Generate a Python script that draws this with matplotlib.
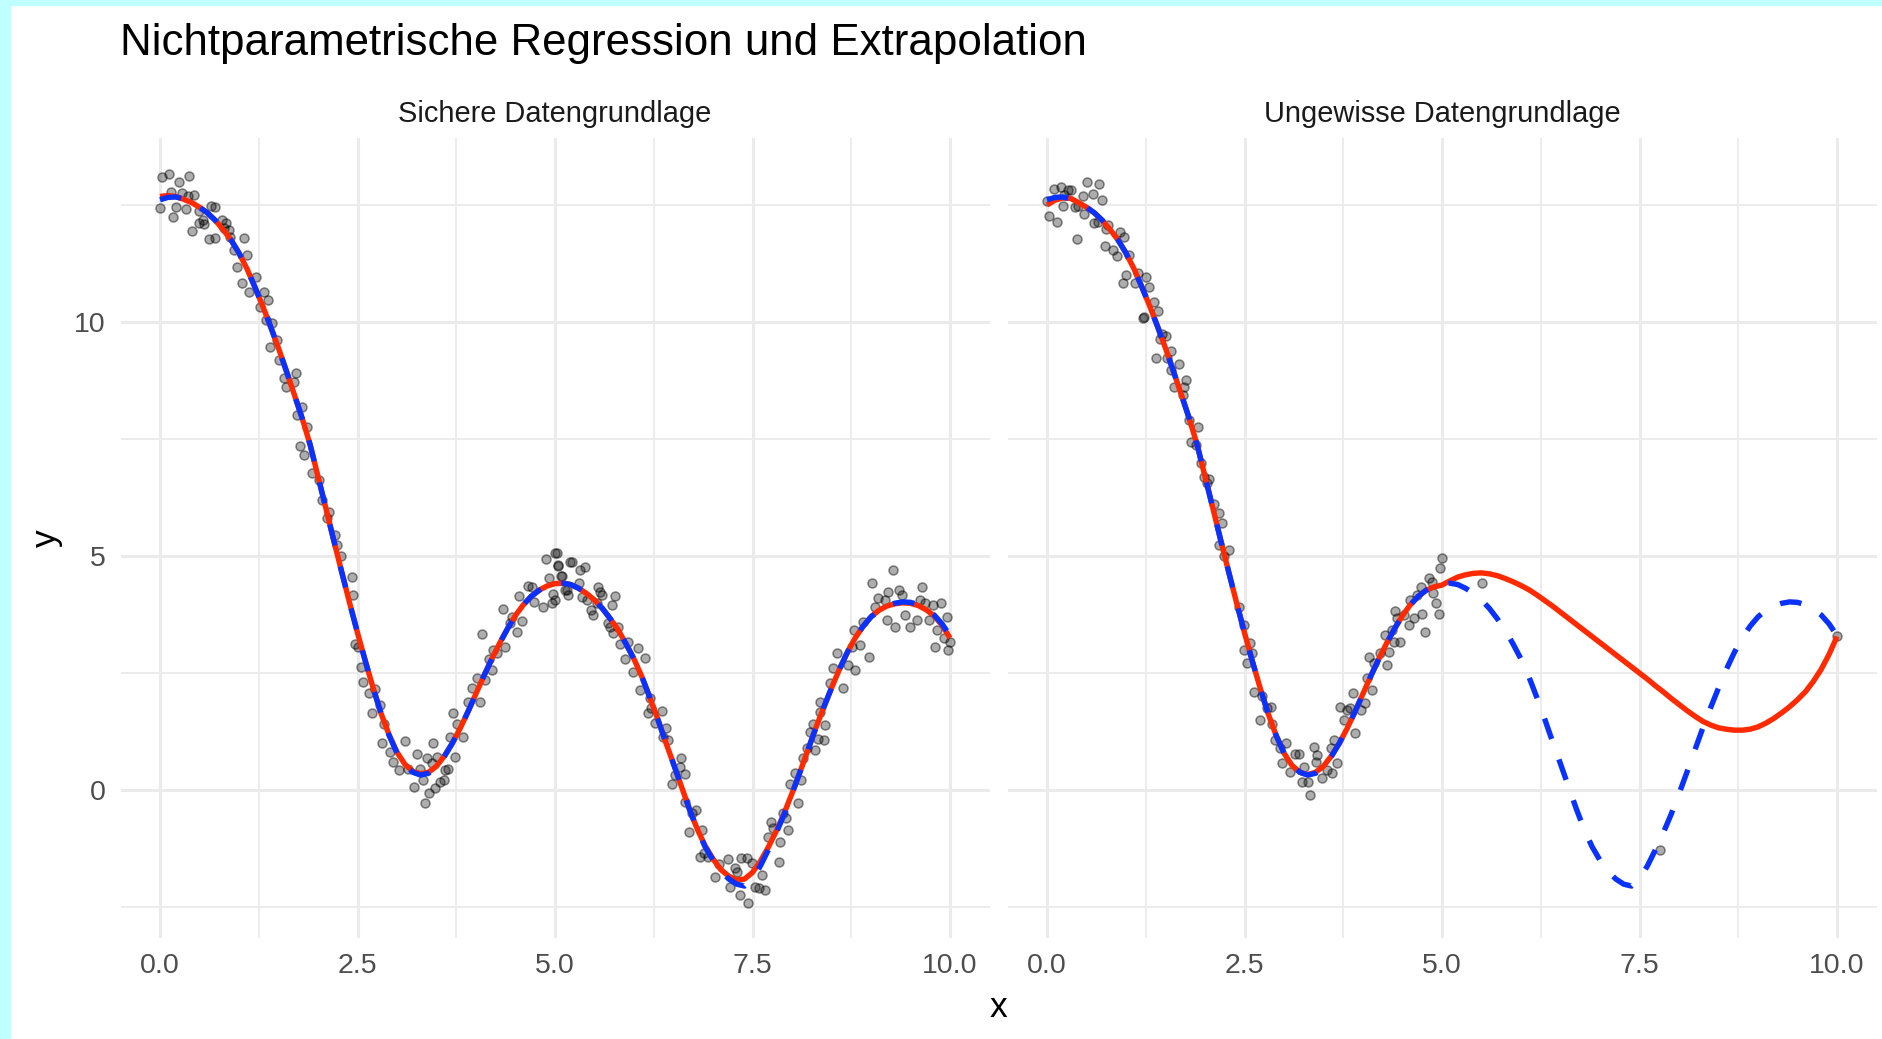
import numpy as np
import matplotlib
matplotlib.use('Agg')
import matplotlib.pyplot as plt
from matplotlib.patches import Rectangle

plt.rcParams['font.family'] = ['Liberation Sans', 'DejaVu Sans']

# Panel titles and labels
title = "Nichtparametrische Regression und Extrapolation"
panel_titles = ["Sichere Datengrundlage", "Ungewisse Datengrundlage"]
x_ticks = [0, 2.5, 5, 7.5, 10]
x_ticklabels = ["0.0", "2.5", "5.0", "7.5", "10.0"]
y_ticks = [0, 5, 10]
y_ticklabels = ["0", "5", "10"]

# x grid on which the curves were read (step 0.1)
curve_x = [round(0.1 * i, 1) for i in range(101)]

# true function (blue, dashed)
true_y = [12.61, 12.66, 12.67, 12.63, 12.55, 12.45, 12.33, 12.17, 11.97, 11.75,
          11.47, 11.14, 10.75, 10.34, 9.90, 9.44, 8.95, 8.45, 7.94, 7.38,
          6.70, 6.02, 5.33, 4.66, 4.00, 3.36, 2.75, 2.17, 1.63, 1.17,
          0.79, 0.53, 0.38, 0.32, 0.36, 0.49, 0.72, 1.00, 1.32, 1.68,
          2.06, 2.44, 2.80, 3.14, 3.45, 3.73, 3.96, 4.14, 4.27, 4.36,
          4.41, 4.42, 4.39, 4.31, 4.20, 4.06, 3.88, 3.66, 3.42, 3.12,
          2.80, 2.42, 1.98, 1.52, 1.03, 0.56, 0.08, -0.40, -0.84, -1.21,
          -1.50, -1.73, -1.90, -2.01, -2.05, -1.90, -1.62, -1.28, -0.92, -0.52,
          -0.08, 0.38, 0.85, 1.32, 1.76, 2.18, 2.58, 2.94, 3.25, 3.50,
          3.70, 3.84, 3.93, 3.99, 4.02, 4.01, 3.96, 3.87, 3.74, 3.55,
          3.30]

# smoother fitted on all data (red, left panel)
fit_full_y = [12.68, 12.70, 12.68, 12.62, 12.55, 12.45, 12.33, 12.17, 11.97, 11.75,
              11.47, 11.14, 10.75, 10.34, 9.90, 9.44, 8.95, 8.45, 7.94, 7.38,
              6.70, 6.02, 5.33, 4.66, 4.00, 3.36, 2.75, 2.17, 1.63, 1.18,
              0.81, 0.55, 0.40, 0.35, 0.38, 0.51, 0.73, 1.00, 1.32, 1.68,
              2.06, 2.44, 2.80, 3.14, 3.45, 3.73, 3.96, 4.14, 4.27, 4.36,
              4.41, 4.42, 4.39, 4.31, 4.20, 4.06, 3.88, 3.66, 3.42, 3.12,
              2.80, 2.42, 1.98, 1.52, 1.03, 0.56, 0.08, -0.40, -0.83, -1.19,
              -1.47, -1.70, -1.84, -1.92, -1.90, -1.76, -1.52, -1.22, -0.88, -0.50,
              -0.07, 0.38, 0.85, 1.32, 1.76, 2.18, 2.58, 2.94, 3.25, 3.50,
              3.70, 3.84, 3.93, 3.98, 4.00, 3.99, 3.94, 3.85, 3.72, 3.52,
              3.25]

# smoother fitted on x <= 5 only and extrapolated (red, right panel)
fit_part_y = [12.50, 12.60, 12.65, 12.64, 12.55, 12.45, 12.33, 12.17, 11.97, 11.75,
              11.47, 11.14, 10.75, 10.34, 9.90, 9.44, 8.95, 8.45, 7.94, 7.38,
              6.70, 6.02, 5.33, 4.66, 4.00, 3.36, 2.75, 2.17, 1.63, 1.17,
              0.79, 0.53, 0.38, 0.33, 0.38, 0.51, 0.73, 1.00, 1.32, 1.68,
              2.06, 2.44, 2.80, 3.14, 3.45, 3.73, 3.96, 4.14, 4.27, 4.34,
              4.38, 4.47, 4.55, 4.60, 4.63, 4.64, 4.62, 4.58, 4.52, 4.45,
              4.37, 4.28, 4.17, 4.05, 3.93, 3.80, 3.67, 3.54, 3.41, 3.28,
              3.15, 3.02, 2.89, 2.76, 2.63, 2.50, 2.37, 2.23, 2.10, 1.96,
              1.83, 1.70, 1.58, 1.47, 1.39, 1.33, 1.30, 1.28, 1.28, 1.30,
              1.35, 1.43, 1.53, 1.65, 1.78, 1.93, 2.10, 2.32, 2.58, 2.90,
              3.28]

# observations, left panel (complete data)
obs_full_x = [0.03, 0.11, 0.37, 0.24, 0.14, 0.28, 0.43, 0.35, 0.00, 0.20,
              0.33, 0.17, 0.49, 0.64, 0.70, 0.41, 0.49, 0.56, 0.54, 0.79,
              0.83, 0.81, 0.87, 0.89, 0.62, 0.70, 1.06, 0.94, 1.10, 0.98,
              1.04, 1.13, 1.21, 1.32, 1.37, 1.27, 1.34, 1.42, 1.39, 1.48,
              1.51, 1.57, 1.72, 1.70, 1.59, 1.80, 1.74, 1.86, 1.77, 1.82,
              1.93, 2.01, 2.05, 2.14, 2.12, 2.22, 2.24, 2.29,
              2.43, 2.44, 2.47, 2.51, 2.55, 2.57, 2.64, 2.72, 2.68, 2.78,
              2.83, 2.81, 2.91, 2.95, 3.02, 3.10, 3.14, 3.21, 3.25, 3.29,
              3.33, 3.35, 3.40, 3.38, 3.46, 3.44, 3.50, 3.48, 3.54, 3.59,
              3.61, 3.65, 3.67, 3.73, 3.71, 3.76, 3.84, 3.90, 3.95, 4.01,
              4.05, 4.08, 4.11, 4.16, 4.20, 4.22, 4.26, 4.34, 4.37, 4.43,
              4.45, 4.52, 4.54, 4.58, 4.66, 4.71, 4.73, 4.85, 4.89, 4.92,
              4.96, 4.98, 5.00, 5.04, 5.09, 5.13, 5.19,
              5.03, 5.04, 5.08, 5.00, 5.21, 5.32, 5.38, 5.15, 5.17, 5.30,
              5.34, 5.40, 5.46, 5.48, 5.55, 5.57, 5.59, 5.53, 5.72, 5.76,
              5.67, 5.70, 5.74, 5.80, 5.82, 5.89, 5.93, 6.05, 6.14, 5.99,
              6.08, 6.20, 6.22, 6.35, 6.18, 6.27, 6.41, 6.43, 6.37, 6.60,
              6.58, 6.65, 6.52, 6.48, 6.65, 6.73, 6.79, 6.86, 6.69, 6.88,
              6.84, 6.94, 7.03, 7.07, 7.19, 7.22, 7.28, 7.30, 7.36, 7.43,
              7.49, 7.34, 7.44, 7.53, 7.58, 7.66, 7.62, 7.70, 7.74,
              7.83, 7.76, 7.85, 7.95, 7.89, 7.93, 8.08, 7.97, 8.04, 8.12,
              8.14, 8.19, 8.29, 8.23, 8.27, 8.40, 8.33, 8.35, 8.42, 8.35,
              8.48, 8.52, 8.65, 8.57, 8.71, 8.80, 8.76, 8.86, 8.78, 8.90,
              8.97, 9.01, 9.05, 9.09, 9.18, 9.20, 9.22, 9.28, 9.30, 9.35,
              9.39, 9.43, 9.49, 9.58, 9.62, 9.65, 9.68, 9.73, 9.79, 9.81,
              9.83, 9.89, 9.92, 9.96, 9.98, 10.00]
obs_full_y = [13.09, 13.16, 13.12, 13.00, 12.78, 12.76, 12.71, 12.68, 12.43, 12.46,
              12.41, 12.25, 12.36, 12.48, 12.45, 11.95, 12.12, 12.09, 12.18, 12.18,
              12.11, 12.00, 11.97, 11.82, 11.77, 11.79, 11.79, 11.54, 11.43, 11.18,
              10.83, 10.65, 10.97, 10.65, 10.47, 10.33, 10.04, 9.98, 9.46, 9.62,
              9.19, 8.80, 8.92, 8.72, 8.62, 8.19, 8.01, 7.75, 7.34, 7.16,
              6.77, 6.62, 6.20, 5.95, 5.81, 5.45, 5.24, 4.99,
              4.56, 4.17, 3.13, 3.06, 2.63, 2.31, 2.07, 2.15, 1.64, 1.82,
              1.42, 1.00, 0.82, 0.60, 0.43, 1.05, 0.46, 0.07, 0.77, 0.46,
              0.21, -0.27, -0.06, 0.68, 1.00, 0.57, 0.71, 0.04, 0.18, 0.21,
              0.43, 0.44, 1.14, 0.71, 1.64, 1.42, 1.14, 1.89, 2.17, 2.39,
              1.89, 3.33, 2.35, 2.81, 2.56, 2.99, 2.93, 3.86, 3.06, 3.56,
              3.70, 3.38, 4.15, 3.62, 4.36, 4.34, 4.02, 3.92, 4.93, 4.52,
              3.99, 4.19, 5.06, 4.79, 4.57, 4.27, 4.88,
              5.06, 4.81, 4.57, 4.06, 4.88, 4.70, 4.76, 4.27, 4.17, 4.42,
              4.13, 4.06, 3.85, 3.74, 4.33, 4.24, 4.17, 3.99, 3.95, 4.15,
              3.56, 3.49, 3.35, 3.49, 3.13, 2.79, 3.17, 3.03, 2.83, 2.53,
              2.14, 1.96, 1.75, 1.69, 1.64, 1.43, 1.32, 1.07, 1.14, 0.68,
              0.50, 0.34, 0.32, 0.14, -0.25, -0.50, -0.43, -0.85, -0.89, -1.35,
              -1.42, -1.42, -1.85, -1.57, -1.48, -2.07, -1.67, -1.75, -1.46, -1.46,
              -1.55, -2.24, -2.41, -2.07, -2.10, -2.14, -1.82, -1.00, -0.68,
              -1.53, -0.82, -1.10, -0.85, -0.50, -0.60, -0.28, 0.14, 0.36, 0.21,
              0.68, 0.89, 0.85, 1.25, 1.41, 1.07, 1.10, 1.67, 1.39, 1.89,
              2.28, 2.60, 2.17, 2.92, 2.67, 2.56, 3.06, 3.10, 3.42, 3.60,
              2.85, 4.42, 3.92, 4.10, 4.06, 3.63, 4.24, 4.70, 3.49, 4.27,
              4.17, 3.74, 3.49, 3.63, 4.06, 4.34, 3.99, 3.63, 3.95, 3.06,
              3.42, 3.99, 3.25, 3.69, 2.99, 3.17]

# observations, right panel (only x <= 5 plus three stray points)
obs_part_x = [0.00, 0.03, 0.13, 0.09, 0.18, 0.26, 0.30, 0.22, 0.20, 0.35,
              0.39, 0.45, 0.51, 0.58, 0.66, 0.70, 0.47, 0.60, 0.64, 0.38,
              0.75, 0.77, 0.92, 0.98, 0.73, 0.83, 0.89, 1.04, 1.00, 0.96,
              1.11, 1.15, 1.25, 1.29, 1.36, 1.40, 1.21, 1.23, 1.46, 1.51,
              1.43, 1.57, 1.52, 1.38, 1.67, 1.57, 1.76, 1.61, 1.74, 1.72,
              1.80, 1.91, 1.82, 1.89, 1.95, 1.99, 2.05, 2.03, 2.12, 2.18,
              2.22, 2.18, 2.31, 2.24,
              2.43, 2.49, 2.57, 2.49, 2.59, 2.53, 2.62, 2.72, 2.78, 2.83,
              2.69, 2.85, 2.89, 3.02, 2.95, 2.97, 3.14, 3.19, 3.08, 3.25,
              3.23, 3.31, 3.33, 3.38, 3.42, 3.40, 3.48, 3.54, 3.61, 3.67,
              3.59, 3.63, 3.71, 3.80, 3.76, 3.84, 3.87, 3.90, 3.97, 4.03,
              4.05, 4.11, 4.07, 4.14, 4.22, 4.30, 4.33, 4.28, 4.39, 4.37,
              4.41, 4.47, 4.43, 4.52, 4.58, 4.60, 4.64, 4.68, 4.73, 4.75,
              4.79, 4.83, 4.87, 4.89, 4.92, 4.96, 4.98, 5.00, 5.51,
              7.76, 10.00]
obs_part_y = [12.59, 12.26, 12.14, 12.83, 12.89, 12.81, 12.82, 12.71, 12.48, 12.46,
              12.48, 12.68, 12.98, 12.74, 12.94, 12.61, 12.31, 12.11, 12.14, 11.77,
              11.98, 12.07, 11.93, 11.81, 11.62, 11.54, 11.40, 11.43, 11.00, 10.84,
              10.84, 11.04, 10.95, 10.74, 10.43, 10.24, 10.08, 10.11, 9.74, 9.70,
              9.63, 9.37, 9.22, 9.22, 9.10, 8.97, 8.75, 8.62, 8.62, 8.44,
              7.91, 7.75, 7.44, 7.37, 6.99, 6.69, 6.64, 6.55, 6.12, 5.91,
              5.71, 5.24, 5.13, 4.99,
              3.92, 3.53, 3.15, 2.99, 2.92, 2.72, 2.10, 2.01, 1.75, 1.78,
              1.50, 1.42, 1.07, 1.00, 0.89, 0.57, 0.78, 0.77, 0.39, 0.50,
              0.18, 0.18, -0.11, 0.93, 0.75, 0.60, 0.25, 0.43, 0.36, 0.57,
              0.89, 1.08, 1.78, 1.71, 1.50, 1.75, 2.07, 1.21, 1.71, 1.85,
              2.39, 2.14, 2.84, 2.71, 2.92, 2.67, 2.96, 3.31, 3.17, 3.42,
              3.83, 3.17, 3.67, 3.74, 3.53, 4.06, 3.67, 4.17, 4.34, 3.77,
              3.38, 4.52, 4.45, 4.20, 3.99, 3.77, 4.74, 4.95, 4.43,
              -1.28, 3.29]

red = '#FF2A00'
blue = '#0A32FF'
grid_col = '#EBEBEB'
tick_col = '#4D4D4D'

fig = plt.figure(figsize=(18.82, 10.39), dpi=100)

# cyan frame of the screenshot
fig.patches.append(Rectangle((0, 0), 10 / 1882, 1, transform=fig.transFigure,
                             color='#BFFFFF', zorder=0))
fig.patches.append(Rectangle((0, 1 - 5 / 1039), 1, 5 / 1039, transform=fig.transFigure,
                             color='#BFFFFF', zorder=0))

ax1 = fig.add_axes([120.5 / 1882, 0.0972, 869 / 1882, 0.770])
ax2 = fig.add_axes([1007.5 / 1882, 0.0972, 869 / 1882, 0.770])

panels = [(ax1, obs_full_x, obs_full_y, fit_full_y),
          (ax2, obs_part_x, obs_part_y, fit_part_y)]

for k, (ax, ox, oy, fit) in enumerate(panels):
    ax.set_xlim(-0.5, 10.5)
    ax.set_ylim(-3.16, 13.93)
    for s in ax.spines.values():
        s.set_visible(False)

    # grid like theme_minimal
    for v in [1.25, 3.75, 6.25, 8.75]:
        ax.axvline(v, color=grid_col, lw=1.3, zorder=0)
    for v in [-2.5, 2.5, 7.5, 12.5]:
        ax.axhline(v, color=grid_col, lw=1.3, zorder=0)
    for v in x_ticks:
        ax.axvline(v, color=grid_col, lw=2.2, zorder=0)
    for v in y_ticks:
        ax.axhline(v, color=grid_col, lw=2.2, zorder=0)

    ax.scatter(ox, oy, s=42, facecolors=(0, 0, 0, 0.32),
               edgecolors=(0, 0, 0, 0.45), linewidths=1.1, zorder=2)
    ax.plot(curve_x, fit, color=red, lw=3.9, solid_capstyle='butt', zorder=3)
    ax.plot(curve_x, true_y, color=blue, lw=3.9, dashes=(4, 4),
            dash_capstyle='butt', zorder=4)

    ax.set_xticks(x_ticks)
    ax.set_xticklabels(x_ticklabels)
    ax.set_yticks(y_ticks)
    ax.set_yticklabels(y_ticklabels if k == 0 else [])
    ax.tick_params(length=0, labelsize=20.5, labelcolor=tick_col, pad=10.5)

    ax.text(0.5, 1 + 16 / 800, panel_titles[k], transform=ax.transAxes,
            ha='center', va='baseline', fontsize=20.9, color='#1A1A1A')

fig.text(120 / 1882, 1 - 55 / 1039, title, ha='left', va='baseline',
         fontsize=31.6, color='black')
fig.text(998 / 1882, 1 - 1017 / 1039, "x", ha='center', va='baseline',
         fontsize=25.5, color='black')
fig.text(46 / 1882, 1 - 538 / 1039, "y", ha='center', va='center',
         rotation=90, fontsize=25.5, color='black')

fig.savefig('out.png', dpi=100, facecolor='white')
